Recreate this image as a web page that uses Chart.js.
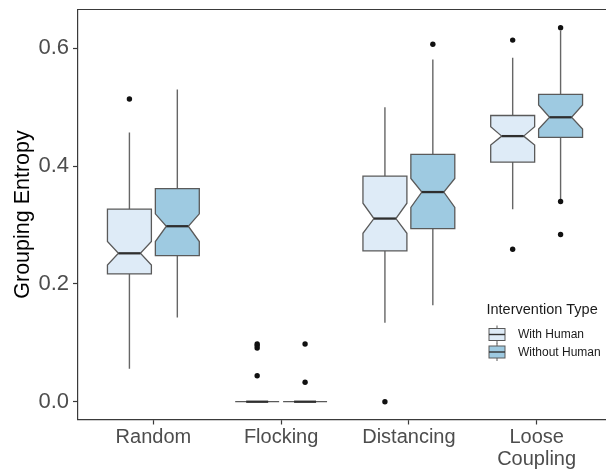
<!DOCTYPE html>
<html>
<head>
<meta charset="utf-8">
<script src="https://cdn.jsdelivr.net/npm/chart.js@4"></script>
<style>
  html, body { margin: 0; padding: 0; background: #fff; overflow: hidden; }
  #wrap { width: 606px; height: 472px; }
</style>
</head>
<body>
<div id="wrap"><canvas id="c" width="606" height="472"></canvas></div>
<script>
// Grouping entropy per intervention scenario, split by intervention type
const categories = ['Random', 'Flocking', 'Distancing', ['Loose', 'Coupling']];
const groupNames = ['With Human', 'Without Human'];
const yTickValues = [0, 0.2, 0.4, 0.6];

// With Human
const withLowWhisker  = [0.056, 0, 0.134, 0.327];
const withQ1          = [0.217, 0, 0.256, 0.407];
const withNotchLow    = [0.232, 0, 0.286, 0.436];
const withMedian      = [0.252, 0, 0.311, 0.451];
const withNotchHigh   = [0.272, 0, 0.337, 0.467];
const withQ3          = [0.327, 0, 0.383, 0.486];
const withHighWhisker = [0.457, 0, 0.500, 0.584];
const withOutliers    = [[0.514], [0.098, 0.095, 0.091, 0.044], [0.0], [0.614, 0.259]];

// Without Human
const withoutLowWhisker  = [0.143, 0, 0.164, 0.343];
const withoutQ1          = [0.248, 0, 0.294, 0.449];
const withoutNotchLow    = [0.272, 0, 0.330, 0.463];
const withoutMedian      = [0.298, 0, 0.356, 0.483];
const withoutNotchHigh   = [0.319, 0, 0.379, 0.504];
const withoutQ3          = [0.362, 0, 0.420, 0.522];
const withoutHighWhisker = [0.530, 0, 0.581, 0.630];
const withoutOutliers    = [[], [0.098, 0.033], [0.607], [0.635, 0.340, 0.284]];

const fillColors = ['#deebf7', '#9ecae1'];
const FONT = '"Liberation Sans", Arial, sans-serif';
const DODGE = 0.1875;     // offset of each group from the category centre (x units)
const BOX_W = 0.344;      // box width (x units)
const NOTCH = 0.5;        // notch width relative to box width

const series = [
  { low: withLowWhisker, q1: withQ1, nLow: withNotchLow, med: withMedian,
    nHigh: withNotchHigh, q3: withQ3, high: withHighWhisker, out: withOutliers },
  { low: withoutLowWhisker, q1: withoutQ1, nLow: withoutNotchLow, med: withoutMedian,
    nHigh: withoutNotchHigh, q3: withoutQ3, high: withoutHighWhisker, out: withoutOutliers }
];

function outlierPoints(s, g) {
  const pts = [];
  s.out.forEach((vals, i) => vals.forEach(v => pts.push({ x: i + (g === 0 ? -DODGE : DODGE), y: v })));
  return pts;
}

const boxPlugin = {
  id: 'notchedBoxes',
  beforeDatasetsDraw(chart) {
    const { ctx, scales: { x, y } } = chart;
    ctx.save();
    series.forEach((s, g) => {
      categories.forEach((_, i) => {
        const cx = i + (g === 0 ? -DODGE : DODGE);
        const px = x.getPixelForValue(cx);
        const l = x.getPixelForValue(cx - BOX_W / 2);
        const r = x.getPixelForValue(cx + BOX_W / 2);
        const ind = (r - l) * (1 - NOTCH) / 2;
        const yLow = y.getPixelForValue(s.low[i]);
        const yQ1 = y.getPixelForValue(s.q1[i]);
        const yNL = y.getPixelForValue(s.nLow[i]);
        const yMed = y.getPixelForValue(s.med[i]);
        const yNH = y.getPixelForValue(s.nHigh[i]);
        const yQ3 = y.getPixelForValue(s.q3[i]);
        const yHigh = y.getPixelForValue(s.high[i]);

        // whiskers
        ctx.strokeStyle = '#666666';
        ctx.lineWidth = 1.4;
        ctx.beginPath();
        ctx.moveTo(px, yQ3); ctx.lineTo(px, yHigh);
        ctx.moveTo(px, yQ1); ctx.lineTo(px, yLow);
        ctx.stroke();

        // notched box
        ctx.beginPath();
        ctx.moveTo(l, yQ3);
        ctx.lineTo(r, yQ3);
        ctx.lineTo(r, yNH);
        ctx.lineTo(r - ind, yMed);
        ctx.lineTo(r, yNL);
        ctx.lineTo(r, yQ1);
        ctx.lineTo(l, yQ1);
        ctx.lineTo(l, yNL);
        ctx.lineTo(l + ind, yMed);
        ctx.lineTo(l, yNH);
        ctx.closePath();
        ctx.fillStyle = fillColors[g];
        ctx.fill();
        ctx.strokeStyle = '#5a5a5a';
        ctx.lineWidth = 1.3;
        ctx.stroke();

        // median
        ctx.strokeStyle = '#2e2e2e';
        ctx.lineWidth = 2.3;
        ctx.beginPath();
        ctx.moveTo(l + ind, yMed);
        ctx.lineTo(r - ind, yMed);
        ctx.stroke();
      });
    });
    ctx.restore();
  },
  afterDraw(chart) {
    const { ctx, chartArea: a } = chart;
    ctx.save();
    // panel frame top edge
    ctx.strokeStyle = '#3a3a3a';
    ctx.lineWidth = 1.2;
    ctx.beginPath();
    ctx.moveTo(a.left, a.top);
    ctx.lineTo(a.right, a.top);
    ctx.stroke();

    // legend
    ctx.fillStyle = '#1a1a1a';
    ctx.font = '14.5px ' + FONT;
    ctx.textBaseline = 'middle';
    ctx.textAlign = 'left';
    ctx.fillText('Intervention Type', 486.5, 309.5);
    ctx.font = '12px ' + FONT;
    groupNames.forEach((name, g) => {
      const cy = 334.5 + g * 17.5;
      const gl = 489, gr = 505, gc = (gl + gr) / 2;
      ctx.strokeStyle = '#5a5a5a';
      ctx.lineWidth = 1;
      ctx.beginPath();
      ctx.moveTo(gc, cy - 9); ctx.lineTo(gc, cy - 6);
      ctx.moveTo(gc, cy + 6); ctx.lineTo(gc, cy + 9);
      ctx.stroke();
      ctx.fillStyle = fillColors[g];
      ctx.fillRect(gl, cy - 6, gr - gl, 12);
      ctx.strokeRect(gl, cy - 6, gr - gl, 12);
      ctx.strokeStyle = '#333333';
      ctx.lineWidth = 1.4;
      ctx.beginPath();
      ctx.moveTo(gl, cy); ctx.lineTo(gr, cy);
      ctx.stroke();
      ctx.fillStyle = '#1a1a1a';
      ctx.fillText(name, 518, cy + 0.5);
    });
    ctx.restore();
  }
};

const pointStyle = {
  pointRadius: 2.7,
  pointBackgroundColor: '#111',
  pointBorderColor: '#111',
  pointBorderWidth: 0,
  showLine: false
};

new Chart(document.getElementById('c'), {
  type: 'scatter',
  data: {
    datasets: series.map((s, g) => Object.assign({ label: groupNames[g], data: outlierPoints(s, g) }, pointStyle))
  },
  options: {
    responsive: false,
    animation: false,
    layout: { autoPadding: false, padding: { top: 9.5, left: 0, right: 0, bottom: 0 } },
    plugins: { legend: { display: false }, tooltip: { enabled: false } },
    scales: {
      x: {
        type: 'linear',
        min: -0.59,
        max: 3.543,
        afterBuildTicks(axis) { axis.ticks = categories.map((_, i) => ({ value: i })); },
        afterFit(axis) { axis.height = 52.5; axis.paddingLeft = 0; axis.paddingRight = 0; },
        ticks: {
          autoSkip: false,
          maxRotation: 0,
          padding: 2,
          color: '#4d4d4d',
          font: { family: FONT, size: 20, lineHeight: 1.1 },
          callback: v => categories[v]
        },
        grid: { drawOnChartArea: false, drawTicks: true, tickLength: 5, color: '#3a3a3a', tickWidth: 1.2 },
        border: { display: true, color: '#3a3a3a', width: 1.2 }
      },
      y: {
        type: 'linear',
        min: -0.0302,
        max: 0.666,
        afterBuildTicks(axis) { axis.ticks = yTickValues.map(v => ({ value: v })); },
        afterFit(axis) { axis.width = 78; axis.paddingTop = 0; axis.paddingBottom = 0; },
        title: {
          display: true,
          text: 'Grouping Entropy',
          color: '#000',
          font: { family: FONT, size: 21.5 },
          padding: { top: 10, bottom: 0 }
        },
        ticks: {
          padding: 4,
          color: '#4d4d4d',
          font: { family: FONT, size: 22 },
          callback: v => v.toFixed(1)
        },
        grid: { drawOnChartArea: false, drawTicks: true, tickLength: 5, color: '#3a3a3a', tickWidth: 1.2 },
        border: { display: true, color: '#3a3a3a', width: 1.2 }
      }
    }
  },
  plugins: [boxPlugin]
});
</script>
</body>
</html>
